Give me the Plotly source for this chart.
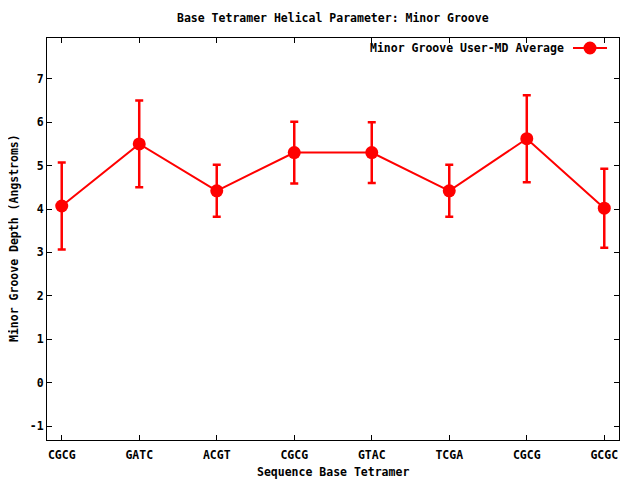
import plotly.graph_objects as go

categories = ["CGCG", "GATC", "ACGT", "CGCG", "GTAC", "TCGA", "CGCG", "GCGC"]
averages = [4.07, 5.50, 4.42, 5.30, 5.30, 4.42, 5.62, 4.02]
errors = [1.00, 1.00, 0.60, 0.71, 0.70, 0.60, 1.00, 0.91]
y_ticks = [-1, 0, 1, 2, 3, 4, 5, 6, 7]

positions = list(range(len(categories)))
red = "#ff0000"
font = "DejaVu Sans Mono"
fs = 11.5

# The page body adds an 8px offset, so the figure spans page 8..640 x 8..480
OFF = 8
W, H = 640 - OFF, 480 - OFF
L, R, T, B = 47 - OFF, 21, 38 - OFF, 40
PW, PH = W - L - R, H - T - B

fig = go.Figure()
fig.add_trace(go.Scatter(
    x=positions, y=averages,
    mode="lines+markers",
    line=dict(color=red, width=2),
    marker=dict(color=red, size=13, symbol="circle"),
    error_y=dict(type="data", array=errors, visible=True, color=red, thickness=2.5, width=4),
    name="Minor Groove User-MD Average",
    showlegend=False,
))

fig.update_layout(
    width=W, height=H,
    margin=dict(l=L, r=R, t=T, b=B, autoexpand=False),
    paper_bgcolor="white", plot_bgcolor="white",
    font=dict(family=font, size=fs, color="black"),
    xaxis=dict(
        range=[-0.19, 7.19], tickmode="array", tickvals=positions,
        ticktext=["<b>%s</b>" % c for c in categories],
        ticks="inside", ticklen=5, tickcolor="black", tickwidth=1,
        showline=True, linecolor="black", linewidth=1, mirror="ticks",
        showgrid=False, zeroline=False, automargin=False,
        ticklabelstandoff=4,
    ),
    yaxis=dict(
        range=[-1.32, 7.94], tickmode="array", tickvals=y_ticks,
        ticktext=["<b>%d</b>" % v for v in y_ticks],
        ticks="inside", ticklen=5, tickcolor="black", tickwidth=1,
        showline=True, linecolor="black", linewidth=1, mirror="ticks",
        showgrid=False, zeroline=False, automargin=False,
    ),
)

# convert reference page pixels to paper coordinates
def px_x(px):
    return (px - OFF - L) / PW

def px_y(py):
    return 1 - (py - OFF - T) / PH

fig.add_annotation(xref="paper", yref="paper", x=px_x(333), y=px_y(18),
                   text="<b>Base Tetramer Helical Parameter: Minor Groove</b>", showarrow=False,
                   xanchor="center", yanchor="middle", font=dict(size=fs, family=font))
fig.add_annotation(xref="paper", yref="paper", x=px_x(333), y=px_y(472),
                   text="<b>Sequence Base Tetramer</b>", showarrow=False,
                   xanchor="center", yanchor="middle", font=dict(size=fs, family=font))
fig.add_annotation(xref="paper", yref="paper", x=px_x(14), y=px_y(238),
                   text="<b>Minor Groove Depth (Angstroms)</b>", showarrow=False, textangle=-90,
                   xanchor="center", yanchor="middle", font=dict(size=fs, family=font))

# Legend (gnuplot style: text on left, sample on right)
ly = px_y(48)
fig.add_annotation(xref="paper", yref="paper", x=px_x(566), y=ly,
                   text="<b>Minor Groove User-MD Average</b>", showarrow=False,
                   xanchor="right", yanchor="middle", font=dict(size=fs, family=font))
fig.add_shape(type="line", xref="paper", yref="paper",
              x0=px_x(573), x1=px_x(607), y0=ly, y1=ly,
              line=dict(color=red, width=2))
fig.add_shape(type="circle", xref="paper", yref="paper",
              x0=px_x(583.5), x1=px_x(596.5), y0=ly - 6.5 / PH, y1=ly + 6.5 / PH,
              line=dict(color=red, width=0), fillcolor=red)

fig.write_html("out.html")
